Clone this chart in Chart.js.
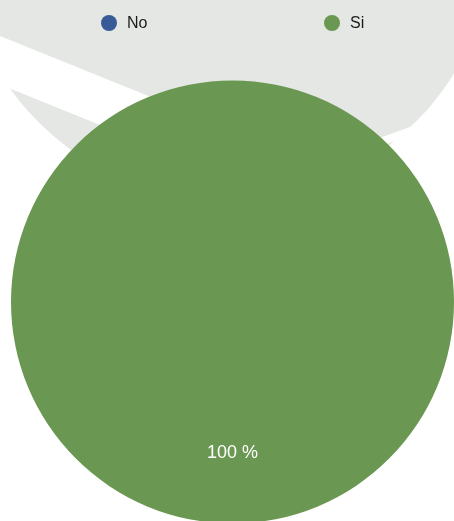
<!DOCTYPE html>
<html>
<head>
<meta charset="utf-8">
<script src="https://cdn.jsdelivr.net/npm/chart.js@4.4.1/dist/chart.umd.min.js"></script>
<style>
  html, body { margin: 0; padding: 0; width: 454px; height: 521px; overflow: hidden; background: #fff; }
  #wrap { position: relative; width: 454px; height: 521px; overflow: hidden; }
  /* marca de agua tenue detrás del gráfico */
  #mark { position: absolute; left: -40px; top: -220px; width: 534px; height: 420px; background: #e5e7e4;
          border-radius: 0 0 267px 267px; }
  #mark2 { position: absolute; left: -60px; top: 60px; width: 230px; height: 45px; background: #fff; transform: rotate(22deg); }
  #mark3 { position: absolute; left: 350px; top: 120px; width: 160px; height: 8px; background: #fff; transform: rotate(-20deg); }
  #box { position: absolute; left: 0; top: 0; width: 454px; height: 525px; }
  #legend { position: absolute; top: 14px; left: 0; width: 454px; height: 20px; }
  .item { position: absolute; top: 0; display: flex; align-items: center; font-family: "Liberation Sans", Arial, sans-serif;
          font-size: 16px; color: #1a1a1a; }
  .dot { width: 16px; height: 16px; border-radius: 50%; margin-right: 10px; }
</style>
</head>
<body>
<div id="wrap">
  <div id="mark"></div>
  <div id="mark2"></div>
  <div id="mark3"></div>
  <div id="box"><canvas id="myChart" width="454" height="525"></canvas></div>
  <div id="legend"></div>
</div>
<script>
// Datos del gráfico
const labels = ['No', 'Si'];
const values = [0, 100];
const colors = ['#385b97', '#6a9751'];
const legendLeft = [101, 324];

// leyenda en HTML construida desde las etiquetas de Chart.js
const htmlLegend = {
    id: 'htmlLegend',
    afterUpdate(chart) {
        const box = document.getElementById('legend');
        box.innerHTML = '';
        const items = chart.options.plugins.legend.labels.generateLabels(chart);
        items.forEach((item, i) => {
            const el = document.createElement('div');
            el.className = 'item';
            el.style.left = legendLeft[i] + 'px';
            const dot = document.createElement('span');
            dot.className = 'dot';
            dot.style.background = item.fillStyle;
            const txt = document.createElement('span');
            txt.textContent = item.text;
            el.appendChild(dot);
            el.appendChild(txt);
            box.appendChild(el);
        });
    }
};

// etiqueta de porcentaje dentro de la porción
const pctLabels = {
    id: 'pctLabels',
    afterDatasetsDraw(chart) {
        const ctx = chart.ctx;
        const meta = chart.getDatasetMeta(0);
        const total = values.reduce((a, b) => a + b, 0);
        meta.data.forEach((arc, i) => {
            if (!values[i]) return;
            const p = arc.getProps(['x', 'y', 'startAngle', 'endAngle', 'outerRadius']);
            const mid = (p.startAngle + p.endAngle) / 2;
            const r = p.outerRadius * 0.68;
            ctx.save();
            ctx.fillStyle = '#ffffff';
            ctx.font = '18px "Liberation Sans", Arial, sans-serif';
            ctx.textAlign = 'center';
            ctx.textBaseline = 'middle';
            ctx.fillText(Math.round(values[i] / total * 100) + ' %', p.x + Math.cos(mid) * r, p.y + Math.sin(mid) * r);
            ctx.restore();
        });
    }
};

new Chart(document.getElementById('myChart').getContext('2d'), {
    type: 'pie',
    data: {
        labels: labels,
        datasets: [{
            data: values,
            backgroundColor: colors,
            borderWidth: 0
        }]
    },
    options: {
        responsive: false,
        animation: false,
        layout: { padding: { left: 11, right: 0, top: 79, bottom: 0 } },
        plugins: {
            legend: { display: false },
            tooltip: { enabled: false }
        }
    },
    plugins: [htmlLegend, pctLabels]
});
</script>
</body>
</html>
